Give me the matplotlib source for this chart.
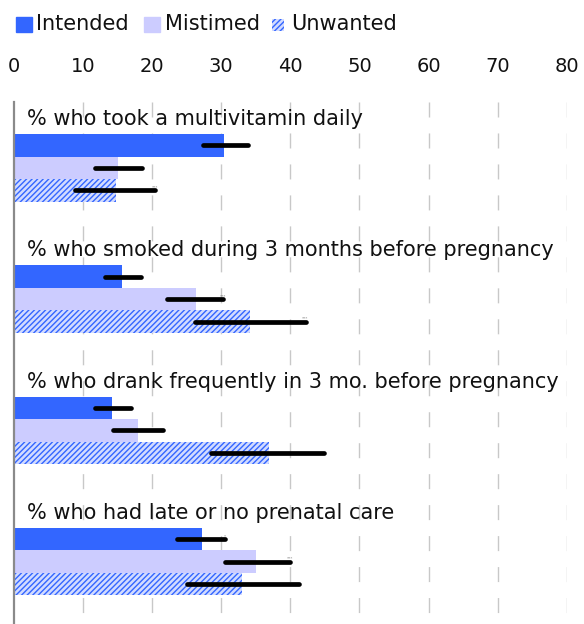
import matplotlib

matplotlib.use("Agg")
import matplotlib.pyplot as plt
from matplotlib.patches import Rectangle

plt.rcParams["font.family"] = "DejaVu Sans"
plt.rcParams["hatch.linewidth"] = 1.0
plt.rcParams["lines.scale_dashes"] = False

# Outcomes by pregnancy intention (percent, with 95% CI)
categories = [
    "% who took a multivitamin daily",
    "% who smoked during 3 months before pregnancy",
    "% who drank frequently in 3 mo. before pregnancy",
    "% who had late or no prenatal care",
]
series_names = ["Intended", "Mistimed", "Unwanted"]

intended = [30.4, 15.6, 14.2, 27.2]
intended_lo = [27.3, 13.2, 11.7, 23.6]
intended_hi = [33.8, 18.4, 17.0, 30.5]

mistimed = [15.0, 26.4, 17.9, 35.0]
mistimed_lo = [11.7, 22.1, 14.4, 30.6]
mistimed_hi = [18.5, 30.3, 21.6, 39.9]

unwanted = [14.7, 34.2, 36.9, 33.0]
unwanted_lo = [8.8, 26.2, 28.5, 25.0]
unwanted_hi = [20.4, 42.2, 44.8, 41.3]

# significance flags printed next to the upper CI end
intended_sig = ["", "", "", "*"]
mistimed_sig = ["", "***", "", "***"]
unwanted_sig = ["***", "***", "", ""]

x_ticks = [0, 10, 20, 30, 40, 50, 60, 70, 80]

BLUE = "#3366ff"
LAVENDER = "#ccccff"
HATCH_FACE = "#d2dbff"
HATCH = "//////"

W, H = 584, 624
fig = plt.figure(figsize=(W / 100, H / 100), dpi=100)

# axes in pixel terms: left edge at x=14, right edge at 566.7, top at y=102
ax_left, ax_right, ax_top = 14, 566.7, 102
ax = fig.add_axes([ax_left / W, 0, (ax_right - ax_left) / W, (H - ax_top) / H])
ax_h = H - ax_top

ax.set_xlim(x_ticks[0], x_ticks[-1])
ax.set_ylim(ax_h, 0)

GROUP_TOP = 32
GROUP_STEP = 131.3
BAR_H = 22.5

series = [
    (intended, intended_lo, intended_hi, intended_sig,
     dict(color=BLUE)),
    (mistimed, mistimed_lo, mistimed_hi, mistimed_sig,
     dict(color=LAVENDER)),
    (unwanted, unwanted_lo, unwanted_hi, unwanted_sig,
     dict(facecolor=HATCH_FACE, edgecolor=BLUE, hatch=HATCH, linewidth=0)),
]

# dashed vertical gridlines, drawn top-down so the dash pattern starts at the top
for t in x_ticks[1:]:
    ax.plot([t, t], [0, ax_h], color="#c8c8c8", linewidth=1.0,
            linestyle=(0, (10.8, 11.5)), zorder=0)

for g, label in enumerate(categories):
    top = GROUP_TOP + g * GROUP_STEP
    ax.text(1.9, top - 9, label, fontsize=15, va="baseline", ha="left",
            color="#111111", zorder=3)
    for k, (vals, lo, hi, sig, style) in enumerate(series):
        yc = top + (k + 0.5) * BAR_H
        ax.barh(yc, vals[g], height=BAR_H, zorder=1, **style)
        err = ax.hlines(yc, lo[g], hi[g], color="black", linewidth=3.4, zorder=4)
        err.set_capstyle("round")
        if sig[g]:
            ax.text(hi[g], yc - 3, sig[g], fontsize=3, color="#777777",
                    ha="center", va="center", zorder=5)

ax.xaxis.tick_top()
ax.set_xticks(x_ticks)
ax.set_xticklabels([str(t) for t in x_ticks], fontsize=14)
ax.tick_params(axis="x", length=0, pad=19, colors="#111111")
ax.set_yticks([])
for side in ["top", "right", "bottom"]:
    ax.spines[side].set_visible(False)
ax.spines["left"].set_color("#8a8a8a")
ax.spines["left"].set_linewidth(1.6)
ax.patch.set_alpha(0)


# legend row along the top edge
def px_rect(x0, y0, w, h, **kw):
    fig.patches.append(Rectangle((x0 / W, 1 - (y0 + h) / H), w / W, h / H,
                                 transform=fig.transFigure, figure=fig, **kw))


px_rect(16, 16.7, 16, 15.3, color=BLUE)
fig.text(36 / W, 1 - 24 / H, series_names[0], fontsize=15, va="center", color="#111111")
px_rect(144, 16.7, 16, 15.3, color=LAVENDER)
fig.text(165 / W, 1 - 24 / H, series_names[1], fontsize=15, va="center", color="#111111")
px_rect(272, 19, 11.5, 11.5, facecolor=HATCH_FACE, edgecolor=BLUE, hatch=HATCH, linewidth=0)
fig.text(291 / W, 1 - 24 / H, series_names[2], fontsize=15, va="center", color="#111111")

fig.savefig("out.png", dpi=100)
